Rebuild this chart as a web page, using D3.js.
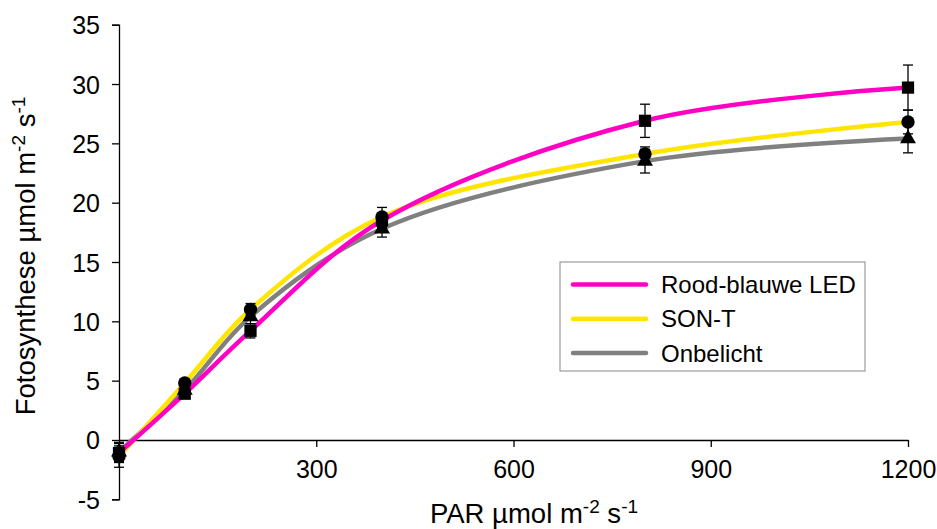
<!DOCTYPE html>
<html lang="nl">
<head>
<meta charset="utf-8">
<title>Fotosynthese</title>
<script src="https://cdn.jsdelivr.net/npm/d3@7"></script>
<style>
  body { margin: 0; background: #fff; }
  svg text { font-family: "Liberation Sans", Arial, sans-serif; fill: #000; }
</style>
</head>
<body>
<script>
// PAR niveaus en gemeten fotosynthese
var par = [0, 100, 200, 400, 800, 1200];

var ledVals  = [-1.1, 3.9, 9.2, 18.5, 26.9, 29.7];
var ledErr   = [0.8, 0.4, 0.6, 0.6, 1.4, 1.9];
var sontVals = [-1.4, 4.8, 11.0, 18.8, 24.1, 26.8];
var sontErr  = [0.9, 0.3, 0.5, 0.8, 0.6, 1.0];
var onbVals  = [-1.0, 4.2, 10.4, 17.8, 23.5, 25.4];
var onbErr   = [0.8, 0.4, 0.6, 0.7, 1.0, 1.2];

var seriesNames = ["Rood-blauwe LED", "SON-T", "Onbelicht"];
var xTicks = [300, 600, 900, 1200];
var yTicks = [-5, 0, 5, 10, 15, 20, 25, 30, 35];

var width = 937, height = 529;

var series = [
  {name: seriesNames[0], vals: ledVals,  err: ledErr,  color: "#ff00c4", sym: d3.symbolSquare,   size: 150},
  {name: seriesNames[1], vals: sontVals, err: sontErr, color: "#ffe500", sym: d3.symbolCircle,   size: 140},
  {name: seriesNames[2], vals: onbVals,  err: onbErr,  color: "#808080", sym: d3.symbolTriangle, size: 110}
];

var x = d3.scaleLinear().domain([0, 1200]).range([119, 908]);
var y = d3.scaleLinear().domain([-5, 35]).range([499.3, 24.7]);

var svg = d3.select("body").append("svg")
  .attr("width", width)
  .attr("height", height);

// assen
var yAxis = svg.append("g")
  .attr("transform", "translate(" + x(0) + ",0)")
  .call(d3.axisLeft(y).tickValues(yTicks).tickFormat(function(d) { return String(d); })
    .tickSize(7).tickPadding(12));
yAxis.select(".domain").attr("stroke", "#000").attr("stroke-width", 1.3);
yAxis.selectAll(".tick line").attr("stroke", "#000").attr("stroke-width", 1.3);
yAxis.selectAll(".tick text").style("font-size", "25px").attr("dy", "0.36em");

var xAxis = svg.append("g")
  .attr("transform", "translate(0," + y(0) + ")")
  .call(d3.axisBottom(x).tickValues(xTicks).tickFormat(function(d) { return String(d); })
    .tickSize(7).tickPadding(13).tickSizeOuter(0));
xAxis.select(".domain").attr("stroke", "#000").attr("stroke-width", 1.3);
xAxis.selectAll(".tick line").attr("stroke", "#000").attr("stroke-width", 1.3);
xAxis.selectAll(".tick text").style("font-size", "25px");

// lijnen (onbelicht onderop, LED bovenop)
var line = d3.line()
  .x(function(d, i) { return x(par[i]); })
  .y(function(d) { return y(d); })
  .curve(d3.curveCatmullRom.alpha(0.5));

svg.append("g").selectAll("path")
  .data(series.slice().reverse())
  .enter().append("path")
    .attr("d", function(s) { return line(s.vals); })
    .attr("fill", "none")
    .attr("stroke", function(s) { return s.color; })
    .attr("stroke-width", 4.5)
    .attr("stroke-linejoin", "round");

// foutbalken
var eb = svg.append("g").attr("stroke", "#000").attr("stroke-width", 1.3);
series.forEach(function(s) {
  s.vals.forEach(function(v, i) {
    var cx = x(par[i]);
    var y1 = y(v + s.err[i]), y2 = y(v - s.err[i]);
    eb.append("line").attr("x1", cx).attr("x2", cx).attr("y1", y1).attr("y2", y2);
    eb.append("line").attr("x1", cx - 5).attr("x2", cx + 5).attr("y1", y1).attr("y2", y1);
    eb.append("line").attr("x1", cx - 5).attr("x2", cx + 5).attr("y1", y2).attr("y2", y2);
  });
});

// markers (driehoek, vierkant, cirkel)
[series[2], series[0], series[1]].forEach(function(s) {
  svg.append("g").selectAll("path")
    .data(s.vals)
    .enter().append("path")
      .attr("d", d3.symbol().type(s.sym).size(s.size))
      .attr("transform", function(d, i) { return "translate(" + x(par[i]) + "," + y(d) + ")"; })
      .attr("fill", "#000");
});

// legenda
var lg = svg.append("g").attr("transform", "translate(560,262)");
lg.append("rect")
  .attr("width", 305).attr("height", 109)
  .attr("fill", "#fff").attr("stroke", "#888").attr("stroke-width", 1);
series.forEach(function(s, i) {
  var ly = 22.5 + i * 34.2;
  lg.append("line")
    .attr("x1", 13).attr("x2", 86).attr("y1", ly).attr("y2", ly)
    .attr("stroke", s.color).attr("stroke-width", 4.5).attr("stroke-linecap", "round");
  lg.append("text")
    .attr("x", 101).attr("y", ly).attr("dy", "0.36em")
    .style("font-size", "24px")
    .text(s.name);
});

// aslabels
function unitLabel(sel, main) {
  sel.append("tspan").text(main + " µmol m");
  sel.append("tspan").attr("dy", -10).style("font-size", "19px").text("-2");
  sel.append("tspan").attr("dy", 10).text(" s");
  sel.append("tspan").attr("dy", -10).style("font-size", "19px").text("-1");
}

svg.append("text")
  .attr("x", 534).attr("y", 523)
  .attr("text-anchor", "middle")
  .style("font-size", "27.5px")
  .call(unitLabel, "PAR");

svg.append("text")
  .attr("transform", "translate(35,256) rotate(-90)")
  .attr("text-anchor", "middle")
  .style("font-size", "27.5px")
  .call(unitLabel, "Fotosynthese");
</script>
</body>
</html>
